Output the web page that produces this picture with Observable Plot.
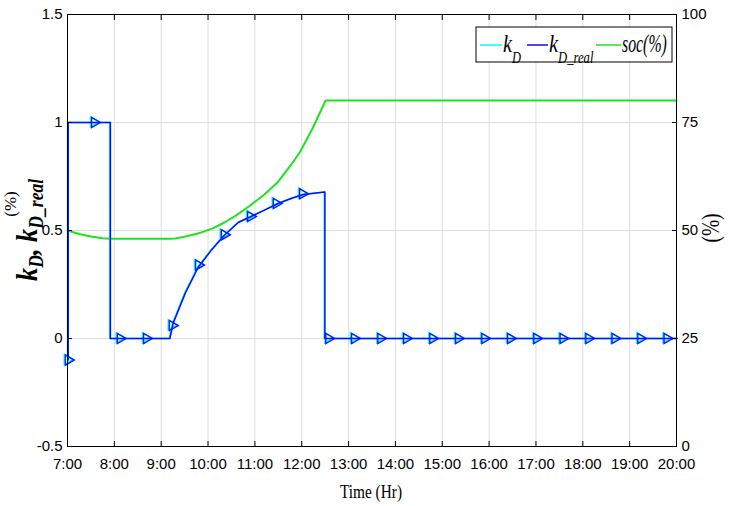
<!DOCTYPE html>
<html><head><meta charset="utf-8">
<script src="https://cdn.jsdelivr.net/npm/d3@7"></script>
<script src="https://cdn.jsdelivr.net/npm/@observablehq/plot@0.6"></script>
<style>
body{margin:0;background:#fff}
#chart{position:relative;width:739px;height:506px;overflow:hidden}
</style>
</head><body><div id="chart"></div>
<script>
// ---- tick labels ----
const hourTicks  = [7,8,9,10,11,12,13,14,15,16,17,18,19,20];
const hourLabels = ["7:00","8:00","9:00","10:00","11:00","12:00","13:00","14:00","15:00","16:00","17:00","18:00","19:00","20:00"];
const leftTicks  = [-0.5,0,0.5,1,1.5];
const leftLabels = ["-0.5","0","0.5","1","1.5"];
const socTicks   = [0,25,50,75,100];

// ---- k_D_real (blue) line ----
const kDRealTime  = [7.0, 7.0, 7.9, 7.9, 9.17, 9.24, 9.5, 9.775, 10.05, 10.33, 10.63, 10.906, 11.18, 11.48, 11.76, 12.016, 12.48, 12.48, 20.0];
const kDRealValue = [-0.1, 1, 1, 0, 0, 0.07, 0.21, 0.33, 0.407, 0.477, 0.537, 0.565, 0.593, 0.625, 0.648, 0.667, 0.678, 0, 0];
// ---- k_D (cyan) line ----
const kDTime  = [7.0, 7.0, 7.9, 7.9, 9.17, 9.24, 9.5, 9.775, 10.05, 10.33, 10.63, 10.906, 11.18, 11.48, 11.76, 12.016, 12.48, 12.48, 20.0];
const kDValue = [-0.1, 1, 1, 0, 0, 0.07, 0.21, 0.33, 0.407, 0.477, 0.537, 0.565, 0.593, 0.625, 0.648, 0.667, 0.678, 0, 0];
// ---- marker samples ----
const markerTime  = [7.00, 7.56, 8.11, 8.67, 9.22, 9.78, 10.33, 10.89, 11.44, 12.00, 12.56, 13.11, 13.67, 14.22, 14.78, 15.33, 15.89, 16.44, 17.00, 17.56, 18.11, 18.67, 19.22, 19.78];
const markerValue = [-0.1, 1, 0, 0, 0.06, 0.34, 0.48, 0.565, 0.625, 0.67, 0, 0, 0, 0, 0, 0, 0, 0, 0, 0, 0, 0, 0, 0];
// ---- soc (%) green line ----
const socTime  = [7.0, 7.25, 7.5, 7.75, 7.9, 9.16, 9.3, 9.52, 9.84, 10.1, 10.35, 10.6, 10.9, 11.18, 11.48, 11.76, 11.97, 12.23, 12.51, 20.0];
const socValue = [50.0, 49.2, 48.6, 48.2, 48.1, 48.1, 48.15, 48.6, 49.5, 50.5, 51.85, 53.5, 55.8, 58.1, 61.1, 65.0, 68.3, 73.6, 80.1, 80.1];

const legendItems = [
  {k:"k", sub:"D", color:"#00ffff"},
  {k:"k", sub:"D_real", color:"#0a0aff"},
  {k:"soc(%)", sub:"", color:"#1ee31e"}
];

const zip = (t, v) => t.map((x, i) => ({t: x, v: v[i]}));
const kDReal = zip(kDRealTime, kDRealValue);
const kD = zip(kDTime, kDValue);
const markers = zip(markerTime, markerValue);
const soc = zip(socTime, socValue);
const socToY = p => p / 50 - 0.5;   // right axis (0..100 %) onto left axis (-0.5..1.5)

const plot = Plot.plot({
  width: 739, height: 506,
  marginLeft: 67, marginRight: 63, marginTop: 14, marginBottom: 60,
  style: {fontFamily: "'Liberation Sans Narrow','Liberation Sans',Arial,sans-serif", fontSize: "15px", color: "#000", background: "#fff", overflow: "visible"},
  x: {domain: [7, 20]},
  y: {domain: [-0.5, 1.5]},
  marks: [
    Plot.gridX(hourTicks, {stroke: "#dedede", strokeOpacity: 1}),
    Plot.gridY(leftTicks, {stroke: "#dedede", strokeOpacity: 1}),
    Plot.line(soc, {x: "t", y: d => socToY(d.v), stroke: legendItems[2].color, strokeWidth: 2}),
    Plot.line(kD, {x: "t", y: "v", stroke: legendItems[0].color, strokeWidth: 1.5}),
    Plot.dot(markers, {x: "t", y: "v", symbol: "triangle", rotate: 90, r: 3.8, stroke: legendItems[0].color, fill: "none", strokeWidth: 1.5, dx: -0.3, dy: -0.6}),
    Plot.line(kDReal, {x: "t", y: "v", stroke: legendItems[1].color, strokeWidth: 1.5, dx: 0.7}),
    Plot.dot(markers, {x: "t", y: "v", symbol: "triangle", rotate: 90, r: 3.8, stroke: "#1414ff", fill: "none", strokeWidth: 1.4, dx: 0.8}),
    Plot.frame({stroke: "#000", strokeWidth: 1}),
    Plot.axisX({ticks: hourTicks, tickFormat: d => hourLabels[hourTicks.indexOf(d)], tickSize: -5, tickPadding: 17, label: null}),
    Plot.axisX({anchor: "top", ticks: hourTicks, tickFormat: () => "", tickSize: -5, label: null}),
    Plot.axisY({ticks: leftTicks, tickFormat: d => leftLabels[leftTicks.indexOf(d)], tickSize: -5, tickPadding: 10, label: null}),
    Plot.axisY({anchor: "right", ticks: socTicks.map(socToY), tickFormat: d => String(socTicks[socTicks.map(socToY).indexOf(d)]), tickSize: -5, tickPadding: 10, label: null})
  ]
});
document.getElementById("chart").appendChild(plot);

// ---- text decorations (axis titles, legend) ----
const svg = d3.select(plot);
const serif = "'Liberation Serif','Times New Roman',serif";

svg.append("text").attr("x", 371).attr("y", 498).attr("text-anchor", "middle")
  .attr("font-family", serif).attr("font-size", 18).attr("textLength", 62).attr("lengthAdjust", "spacingAndGlyphs")
  .text("Time (Hr)");

// left axis title
const yl = svg.append("text").attr("transform", "translate(37,281) rotate(-90) scale(0.88,1)")
  .attr("text-anchor", "start")
  .attr("font-family", serif).attr("font-size", 30).attr("font-weight", "bold").attr("font-style", "italic");
yl.append("tspan").text("k");
yl.append("tspan").attr("font-size", 20).attr("dy", 6).text("D");
yl.append("tspan").attr("dy", -6).text(", k");
yl.append("tspan").attr("font-size", 20).attr("dy", 6).text("D_real");
svg.append("text").attr("transform", "translate(16,204) rotate(-90)").attr("text-anchor", "middle")
  .attr("font-family", serif).attr("font-size", 17).text("(%)");

// right axis title
svg.append("text").attr("transform", "translate(719,228) rotate(-90) scale(0.78,1)").attr("text-anchor", "middle")
  .attr("font-family", serif).attr("font-size", 25)
  .text("(%)");

// legend
const lg = svg.append("g");
lg.append("rect").attr("x", 476).attr("y", 27).attr("width", 196).attr("height", 35)
  .attr("fill", "#fff").attr("stroke", "#000").attr("stroke-width", 1);
const lx = [[480, 502, 503, 0.78], [527, 548, 549, 0.79], [596, 621, 622, 0.61]];
legendItems.forEach((it, i) => {
  const [x1, x2, tx, sc] = lx[i];
  lg.append("line").attr("x1", x1).attr("x2", x2).attr("y1", 45).attr("y2", 45).attr("stroke", it.color).attr("stroke-width", 1.5);
  const t = lg.append("text").attr("transform", `translate(${tx},51.5) scale(${sc},1)`)
    .attr("text-anchor", "start")
    .attr("font-family", serif).attr("font-style", "italic").attr("font-size", 26);
  t.append("tspan").text(it.k);
  if (it.sub) t.append("tspan").attr("font-size", 16).attr("dy", 11).text(it.sub);
});
</script>
</body></html>
